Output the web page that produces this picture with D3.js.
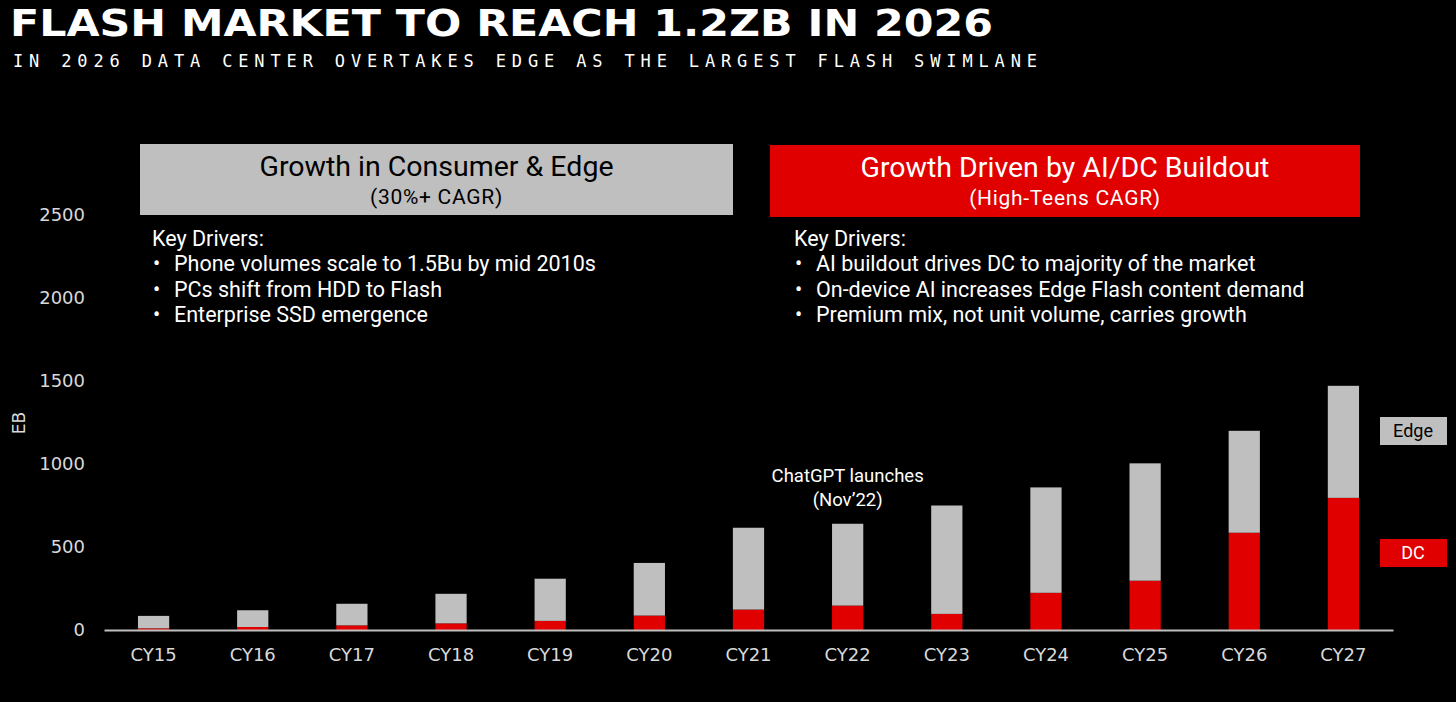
<!DOCTYPE html>
<html>
<head>
<meta charset="utf-8">
<script src="https://cdn.jsdelivr.net/npm/d3@7"></script>
<style>
  html, body { margin: 0; padding: 0; background: #000; }
  svg { display: block; }
</style>
</head>
<body>
<div id="chart"></div>
<script>
const width = 1456, height = 702;

// data (EB)
const years = ["CY15", "CY16", "CY17", "CY18", "CY19", "CY20", "CY21", "CY22", "CY23", "CY24", "CY25", "CY26", "CY27"];
const dcValues = [10, 18, 28, 40, 55, 87, 123, 147, 97, 224, 297, 586, 796];
const totalValues = [85, 119, 158, 218, 309, 404, 616, 640, 750, 859, 1004, 1200, 1471];
const edgeValues = totalValues.map((t, i) => t - dcValues[i]);
const yTicks = [0, 500, 1000, 1500, 2000, 2500];

const leftDrivers = ["Phone volumes scale to 1.5Bu by mid 2010s", "PCs shift from HDD to Flash", "Enterprise SSD emergence"];
const rightDrivers = ["AI buildout drives DC to majority of the market", "On-device AI increases Edge Flash content demand", "Premium mix, not unit volume, carries growth"];

const grey = "#bfbfbf", red = "#e00000";
const bodyFont = "Roboto, 'Noto Sans', sans-serif";
const axisFont = "'DejaVu Sans', sans-serif";

const svg = d3.select("#chart").append("svg")
    .attr("width", width)
    .attr("height", height);

svg.append("rect").attr("width", width).attr("height", height).attr("fill", "#000");

// titles
svg.append("text")
    .attr("x", 10).attr("y", 36)
    .attr("textLength", 983).attr("lengthAdjust", "spacingAndGlyphs")
    .attr("font-family", "'DejaVu Sans', sans-serif")
    .attr("font-weight", "bold")
    .attr("font-size", 37)
    .attr("fill", "#fff")
    .text("FLASH MARKET TO REACH 1.2ZB IN 2026");

svg.append("text")
    .attr("x", 13).attr("y", 67)
    .attr("textLength", 1024).attr("lengthAdjust", "spacing")
    .attr("font-family", "'DejaVu Sans Mono', monospace")
    .attr("font-size", 17)
    .attr("fill", "#fff")
    .text("IN 2026 DATA CENTER OVERTAKES EDGE AS THE LARGEST FLASH SWIMLANE");

// scales
const x = d3.scaleBand().domain(years).range([104, 1393]);
const y = d3.scaleLinear().domain([0, 2500]).range([630, 215]);
const barW = x.bandwidth() * 0.315;

// y axis labels
svg.append("g")
    .selectAll("text")
    .data(yTicks)
    .join("text")
    .attr("x", 85)
    .attr("y", d => y(d))
    .attr("dy", "0.35em")
    .attr("text-anchor", "end")
    .attr("font-family", axisFont)
    .attr("font-size", 18)
    .attr("fill", "#d9d9d9")
    .text(d => d);

svg.append("text")
    .attr("transform", "translate(25,423) rotate(-90)")
    .attr("text-anchor", "middle")
    .attr("font-family", axisFont)
    .attr("font-size", 17)
    .attr("fill", "#d9d9d9")
    .text("EB");

// stacked bars
const stack = d3.stack().keys(["dc", "edge"]);
const rows = years.map((yr, i) => ({ year: yr, dc: dcValues[i], edge: edgeValues[i] }));
const series = stack(rows);
const colors = { dc: red, edge: grey };

svg.append("g")
    .selectAll("g")
    .data(series)
    .join("g")
    .attr("fill", d => colors[d.key])
    .selectAll("rect")
    .data(d => d)
    .join("rect")
    .attr("x", d => x(d.data.year) + (x.bandwidth() - barW) / 2)
    .attr("y", d => y(d[1]))
    .attr("width", barW)
    .attr("height", d => y(d[0]) - y(d[1]));

// x axis
const xAxis = svg.append("g")
    .attr("transform", "translate(0,630)")
    .call(d3.axisBottom(x).tickSize(0).tickPadding(18));
xAxis.select(".domain").attr("stroke", grey).attr("stroke-width", 2);
xAxis.selectAll("text")
    .attr("font-family", axisFont)
    .attr("font-size", 18)
    .attr("fill", "#d9d9d9");

// legend
const legend = [
    { label: "Edge", fill: grey, text: "#000", y: 417 },
    { label: "DC", fill: red, text: "#fff", y: 539 }
];
const lg = svg.append("g").selectAll("g").data(legend).join("g");
lg.append("rect")
    .attr("x", 1380).attr("y", d => d.y)
    .attr("width", 67).attr("height", 28)
    .attr("fill", d => d.fill);
lg.append("text")
    .attr("x", 1413).attr("y", d => d.y + 14)
    .attr("dy", "0.35em")
    .attr("text-anchor", "middle")
    .attr("font-family", bodyFont)
    .attr("font-size", 18)
    .attr("fill", d => d.text)
    .text(d => d.label);

// annotation
const ann = svg.append("text")
    .attr("text-anchor", "middle")
    .attr("font-family", bodyFont)
    .attr("font-size", 18.5)
    .attr("fill", "#fff");
ann.append("tspan").attr("x", x("CY22") + x.bandwidth() / 2).attr("y", 482).text("ChatGPT launches");
ann.append("tspan").attr("x", x("CY22") + x.bandwidth() / 2).attr("y", 506).text("(Nov\u201922)");

// header boxes
const boxes = [
    { x0: 140, x1: 733, y0: 144, y1: 215, tx: 152, fill: grey, text: "#000", title: "Growth in Consumer & Edge", sub: "(30%+ CAGR)", drivers: leftDrivers },
    { x0: 770, x1: 1360, y0: 145, y1: 217, tx: 794, fill: red, text: "#fff", title: "Growth Driven by AI/DC Buildout", sub: "(High-Teens CAGR)", drivers: rightDrivers }
];

boxes.forEach(b => {
    const g = svg.append("g");
    const cx = (b.x0 + b.x1) / 2;
    g.append("rect")
        .attr("x", b.x0).attr("y", b.y0)
        .attr("width", b.x1 - b.x0).attr("height", b.y1 - b.y0)
        .attr("fill", b.fill);
    g.append("text")
        .attr("x", cx).attr("y", b.y0 + 32)
        .attr("text-anchor", "middle")
        .attr("font-family", bodyFont)
        .attr("font-size", 28.5)
        .attr("fill", b.text)
        .text(b.title);
    g.append("text")
        .attr("x", cx).attr("y", b.y0 + 60)
        .attr("text-anchor", "middle")
        .attr("font-family", bodyFont)
        .attr("font-size", 21)
        .attr("letter-spacing", 0.7)
        .attr("fill", b.text)
        .text(b.sub);

    g.append("text")
        .attr("x", b.tx).attr("y", 246)
        .attr("font-family", bodyFont)
        .attr("font-size", 21.5)
        .attr("fill", "#fff")
        .text("Key Drivers:");

    g.selectAll(".drv")
        .data(b.drivers)
        .join("text")
        .attr("font-family", bodyFont)
        .attr("font-size", 21.5)
        .attr("fill", "#fff")
        .attr("y", (d, i) => 271 + i * 25.5)
        .call(t => t.append("tspan").attr("x", b.tx + 1).text("\u2022"))
        .call(t => t.append("tspan").attr("x", b.tx + 22).text(d => d));
});
</script>
</body>
</html>
